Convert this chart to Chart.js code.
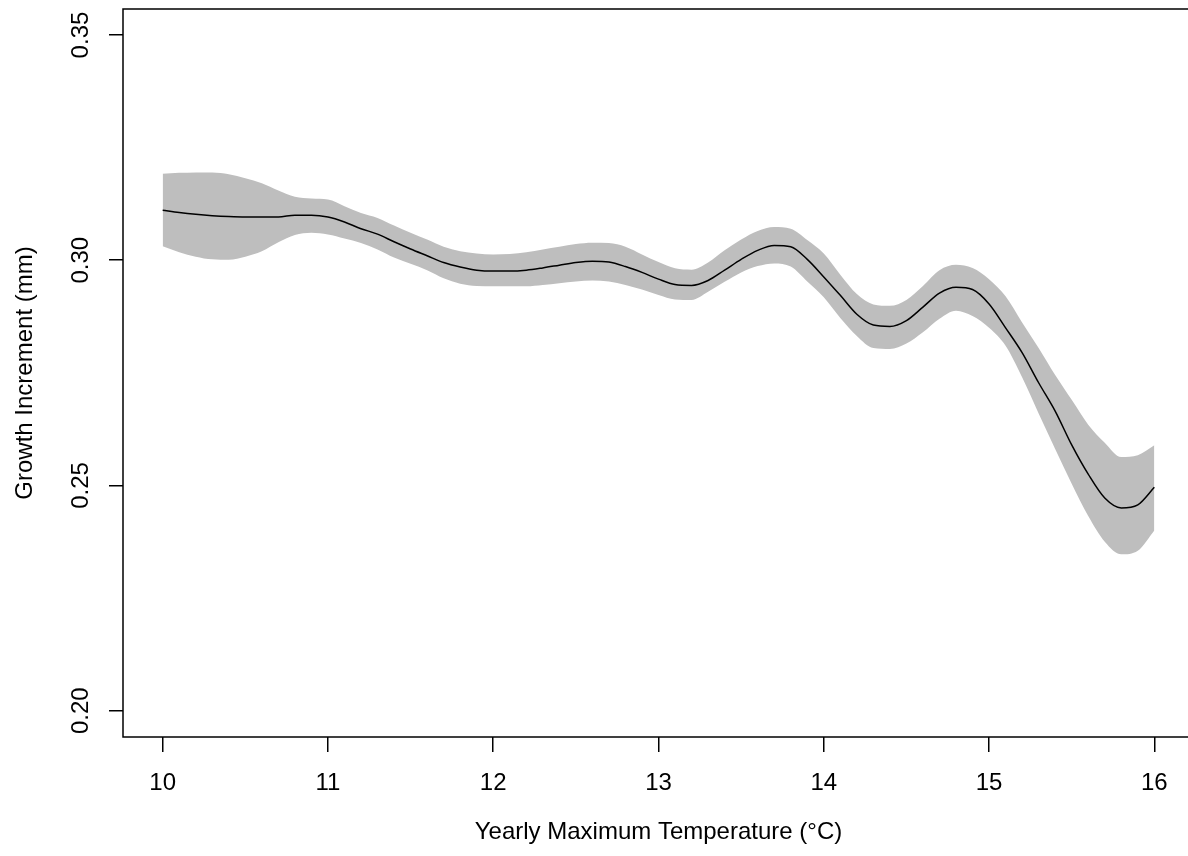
<!DOCTYPE html>
<html>
<head>
<meta charset="utf-8">
<script src="https://cdn.jsdelivr.net/npm/chart.js@4"></script>
<style>
  html, body { margin: 0; padding: 0; background: #fff; overflow: hidden; }
  #wrap { width: 1200px; height: 856px; }
</style>
</head>
<body>
<div id="wrap"><canvas id="chart" width="1200" height="856"></canvas></div>
<script>
// temperature grid (°C)
const temps = [10.0, 10.1, 10.2, 10.3, 10.4, 10.5, 10.6, 10.7, 10.8, 10.9,
  11.0, 11.1, 11.2, 11.3, 11.4, 11.5, 11.6, 11.7, 11.8, 11.9,
  12.0, 12.1, 12.2, 12.3, 12.4, 12.5, 12.6, 12.7, 12.8, 12.9,
  13.0, 13.1, 13.2, 13.3, 13.4, 13.5, 13.6, 13.7, 13.8, 13.9,
  14.0, 14.1, 14.2, 14.3, 14.4, 14.5, 14.6, 14.7, 14.8, 14.9,
  15.0, 15.1, 15.2, 15.3, 15.4, 15.5, 15.6, 15.7, 15.8, 15.9, 16.0];

// fitted growth increment (mm)
const fitVals = [0.3111, 0.3106, 0.3102, 0.3099, 0.3097, 0.3096, 0.3096, 0.3096, 0.3100, 0.3100,
  0.3096, 0.3085, 0.3070, 0.3058, 0.3041, 0.3025, 0.3010, 0.2995, 0.2985, 0.2978,
  0.2976, 0.2976, 0.2978, 0.2983, 0.2989, 0.2995, 0.2998, 0.2996, 0.2986, 0.2973,
  0.2958, 0.2946, 0.2944, 0.2955, 0.2978, 0.3002, 0.3022, 0.3033, 0.3030, 0.3002,
  0.2963, 0.2922, 0.2880, 0.2856, 0.2853, 0.2866, 0.2896, 0.2927, 0.2940, 0.2935,
  0.2903, 0.2850, 0.2795, 0.2728, 0.2665, 0.2590, 0.2525, 0.2472, 0.2450, 0.2457, 0.2496];

// upper confidence bound
const upperVals = [0.3192, 0.3194, 0.3195, 0.3195, 0.3191, 0.3182, 0.3171, 0.3155, 0.3141, 0.3137,
  0.3135, 0.3120, 0.3105, 0.3094, 0.3077, 0.3061, 0.3046, 0.3030, 0.3020, 0.3015,
  0.3013, 0.3014, 0.3018, 0.3024, 0.3030, 0.3036, 0.3039, 0.3038, 0.3030, 0.3013,
  0.2996, 0.2982, 0.2979, 0.2995, 0.3022, 0.3046, 0.3065, 0.3074, 0.3070, 0.3045,
  0.3015, 0.2968, 0.2925, 0.2902, 0.2899, 0.2912, 0.2943, 0.2978, 0.2990, 0.2983,
  0.2958, 0.2920, 0.2862, 0.2805, 0.2745, 0.2690, 0.2635, 0.2595, 0.2563, 0.2567, 0.2589];

// lower confidence bound
const lowerVals = [0.3031, 0.3018, 0.3008, 0.3002, 0.3001, 0.3008, 0.3020, 0.3040, 0.3056, 0.3061,
  0.3057, 0.3048, 0.3038, 0.3024, 0.3006, 0.2992, 0.2978, 0.2960, 0.2948, 0.2943,
  0.2942, 0.2942, 0.2942, 0.2945, 0.2949, 0.2953, 0.2955, 0.2953, 0.2945, 0.2935,
  0.2923, 0.2913, 0.2912, 0.2930, 0.2952, 0.2973, 0.2987, 0.2993, 0.2986, 0.2953,
  0.2918, 0.2872, 0.2832, 0.2805, 0.2803, 0.2815, 0.2840, 0.2870, 0.2888, 0.2876,
  0.2850, 0.2810, 0.2740, 0.2660, 0.2581, 0.2504, 0.2432, 0.2375, 0.2347, 0.2355, 0.2400];

const xTicks = [10, 11, 12, 13, 14, 15, 16];
const yTicks = [0.20, 0.25, 0.30, 0.35];

const pts = vals => temps.map((t, i) => ({ x: t, y: vals[i] }));

const FONT = "'Liberation Sans', Arial, sans-serif";
const FSIZE = 24;
const BAND = '#bebebe';

// box around the plot region, like R's box()
const boxPlugin = {
  id: 'box',
  afterDraw(chart) {
    const { ctx, chartArea: a } = chart;
    ctx.save();
    ctx.strokeStyle = '#000';
    ctx.lineWidth = 1.5;
    ctx.strokeRect(a.left, a.top, a.right - a.left, a.bottom - a.top);
    ctx.restore();
  }
};

const noPad = s => {
  s.paddingTop = 0; s.paddingBottom = 0;
  s.paddingLeft = 0; s.paddingRight = 0;
};

new Chart(document.getElementById('chart'), {
  type: 'line',
  data: {
    datasets: [
      {
        label: 'upper',
        data: pts(upperVals),
        borderWidth: 0,
        pointRadius: 0,
        backgroundColor: BAND,
        fill: '+1',
        cubicInterpolationMode: 'monotone',
        order: 2
      },
      {
        label: 'lower',
        data: pts(lowerVals),
        borderWidth: 0,
        pointRadius: 0,
        backgroundColor: BAND,
        fill: false,
        cubicInterpolationMode: 'monotone',
        order: 2
      },
      {
        label: 'fit',
        data: pts(fitVals),
        borderColor: '#000',
        borderWidth: 1.5,
        pointRadius: 0,
        fill: false,
        cubicInterpolationMode: 'monotone',
        order: 1
      }
    ]
  },
  options: {
    responsive: false,
    animation: false,
    layout: { padding: { top: 9, right: 6, left: 0, bottom: 0 } },
    plugins: {
      legend: { display: false },
      tooltip: { enabled: false }
    },
    scales: {
      x: {
        type: 'linear',
        min: 9.76,
        max: 16.24,
        afterBuildTicks: s => { s.ticks = xTicks.map(v => ({ value: v })); },
        afterFit: s => { s.height = 119; noPad(s); },
        border: { display: false },
        grid: { drawOnChartArea: false, drawTicks: true, tickLength: 15, color: '#000', lineWidth: 1.5 },
        ticks: {
          color: '#000',
          font: { family: FONT, size: FSIZE },
          padding: 17,
          maxRotation: 0,
          autoSkip: false,
          callback: v => String(v)
        },
        title: {
          display: true,
          text: 'Yearly Maximum Temperature (°C)',
          color: '#000',
          font: { family: FONT, size: FSIZE },
          padding: { top: 0, bottom: 9 }
        }
      },
      y: {
        type: 'linear',
        min: 0.19415,
        max: 0.35578,
        afterBuildTicks: s => { s.ticks = yTicks.map(v => ({ value: v })); },
        afterFit: s => { s.width = 123; noPad(s); },
        border: { display: false },
        grid: { drawOnChartArea: false, drawTicks: true, tickLength: 14, color: '#000', lineWidth: 1.5 },
        ticks: {
          color: '#000',
          font: { family: FONT, size: FSIZE },
          padding: 4,
          minRotation: 90,
          maxRotation: 90,
          crossAlign: 'center',
          autoSkip: false,
          callback: v => Number(v).toFixed(2)
        },
        title: {
          display: true,
          text: 'Growth Increment (mm)',
          color: '#000',
          font: { family: FONT, size: FSIZE },
          padding: { top: 11, bottom: 0 }
        }
      }
    }
  },
  plugins: [boxPlugin]
});
</script>
</body>
</html>
